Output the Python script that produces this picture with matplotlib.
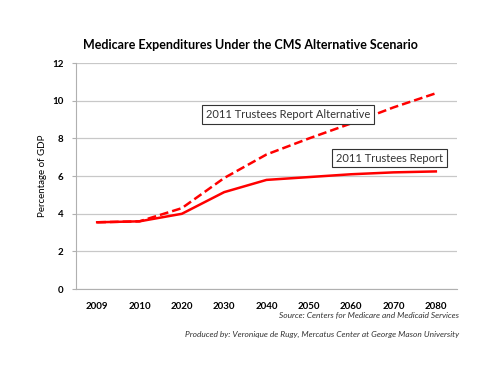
import matplotlib.pyplot as plt
import numpy as np

years = ['2009', '2010', '2020', '2030', '2040', '2050', '2060', '2070', '2080']
trustees = [3.55, 3.6, 4.0, 5.15, 5.8, 5.95, 6.1, 6.2, 6.25]
alternative = [3.55, 3.6, 4.3, 5.9, 7.15, 8.0, 8.8, 9.65, 10.4]

plt.rcParams['font.family'] = ['Lato', 'DejaVu Sans']

fig = plt.figure(figsize=(5, 3.85), dpi=100)
ax = fig.add_axes([0.152, 0.249, 0.762, 0.587])

x = np.arange(len(years))
ax.plot(x, alternative, color='#ff0000', lw=1.8, ls=(0, (3.5, 1.6)))
ax.plot(x, trustees, color='#ff0000', lw=1.8)

ax.set_xlim(-0.5, len(years) - 0.5)
ax.set_ylim(0, 12)
ax.set_yticks(range(0, 13, 2))
ax.set_xticks(x)
ax.set_xticklabels(years, fontsize=7, fontweight='bold')
for t in ax.get_yticklabels():
    t.set_fontsize(7)
    t.set_fontweight('bold')

ax.grid(axis='y', color='#c8c8c8', lw=0.9)
ax.set_axisbelow(True)
for s in ['top', 'right']:
    ax.spines[s].set_visible(False)
for s in ['left', 'bottom']:
    ax.spines[s].set_color('#b0b0b0')
ax.tick_params(axis='x', length=0, pad=9)
ax.tick_params(axis='y', length=3, color='#b0b0b0', pad=6)

ax.set_ylabel('Percentage of GDP', fontsize=7, labelpad=4)
fig.text(0.5, 0.883, 'Medicare Expenditures Under the CMS Alternative Scenario',
         ha='center', va='center', fontsize=9, fontweight='bold')

box = dict(boxstyle='square,pad=0.35', fc='white', ec='#333333', lw=0.8)
ax.text(4.5, 9.29, '2011 Trustees Report Alternative', ha='center', va='center',
        fontsize=8, color='#333333', bbox=box)
ax.text(6.91, 6.96, '2011 Trustees Report', ha='center', va='center',
        fontsize=8, color='#333333', bbox=box)

fig.text(0.918, 0.182, 'Source: Centers for Medicare and Medicaid Services',
         ha='right', va='center', fontsize=6, style='italic', color='#333333')
fig.text(0.918, 0.13, 'Produced by: Veronique de Rugy, Mercatus Center at George Mason University',
         ha='right', va='center', fontsize=6, style='italic', color='#333333')

fig.savefig('out.png', dpi=100)
